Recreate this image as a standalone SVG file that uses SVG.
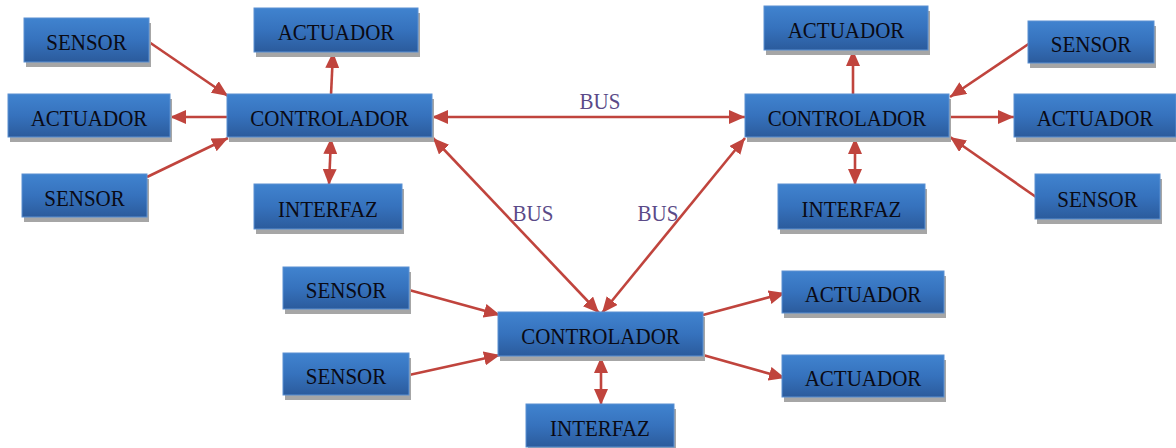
<svg xmlns="http://www.w3.org/2000/svg" width="1176" height="448" viewBox="0 0 1176 448">
  <defs>
    <linearGradient id="boxFill" x1="0" y1="0" x2="0" y2="1">
      <stop offset="0" stop-color="#4083cf"/>
      <stop offset="0.5" stop-color="#3672bd"/>
      <stop offset="1" stop-color="#2b5b9c"/>
    </linearGradient>
    <marker id="head" viewBox="0 0 16 14" refX="16" refY="7" markerWidth="16" markerHeight="14" markerUnits="userSpaceOnUse" orient="auto-start-reverse">
      <path d="M0,0 L16,7 L0,14 z" fill="#c0443d"/>
    </marker>
    <style>
      .shadow { fill: #a6a6a6; }
      .box { fill: url(#boxFill); stroke: #5b90d2; stroke-width: 1; }
      .lbl, .bus { font-family: "Liberation Serif", "Times New Roman", serif; font-size: 21px; text-anchor: middle;
                   transform-box: fill-box; transform-origin: center; transform: scaleY(1.08); }
      .lbl { fill: #0a0a14; }
      .bus { fill: #5a4a88; }
      .wire { stroke: #c0443d; stroke-width: 2.6; fill: none; }
      .one { marker-end: url(#head); }
      .two { marker-start: url(#head); marker-end: url(#head); }
    </style>
  </defs>

  <!-- connectors -->
  <g id="connectors">
    <!-- left controller -->
    <path class="wire one" d="M149,42 L228,96"/>
    <path class="wire one" d="M228,117 L170,117"/>
    <path class="wire one" d="M147,177 L228,138"/>
    <path class="wire one" d="M331,95 L333,52"/>
    <path class="wire two" d="M331,138 L329,185"/>
    <!-- right controller -->
    <path class="wire one" d="M1030,43 L950,97"/>
    <path class="wire one" d="M949,117 L1014,117"/>
    <path class="wire one" d="M1036,197 L950,137"/>
    <path class="wire one" d="M853,95 L853,50"/>
    <path class="wire two" d="M855,138 L855,185"/>
    <!-- bottom controller -->
    <path class="wire one" d="M409,290 L500,315"/>
    <path class="wire one" d="M409,375 L500,355"/>
    <path class="wire two" d="M601,357 L601,405"/>
    <path class="wire one" d="M703,315 L785,293"/>
    <path class="wire one" d="M703,355 L785,378"/>
    <!-- bus links -->
    <path class="wire two" d="M432,117 L745,117"/>
    <path class="wire two" d="M433,138 L599,313"/>
    <path class="wire two" d="M745,138 L602,313"/>
    <text class="bus" x="600" y="108">BUS</text>
    <text class="bus" x="533" y="220">BUS</text>
    <text class="bus" x="658" y="220">BUS</text>
  </g>

  <!-- left controller and its devices -->
  <g id="sensor-l1"><rect class="shadow" x="26" y="23" width="125" height="44"/><rect class="box" x="24" y="18" width="125" height="44"/><text class="lbl" x="86.5" y="49.5">SENSOR</text></g>
  <g id="actuador-l1"><rect class="shadow" x="256" y="13" width="164" height="44"/><rect class="box" x="254" y="8" width="164" height="44"/><text class="lbl" x="336" y="39.5">ACTUADOR</text></g>
  <g id="actuador-l2"><rect class="shadow" x="10" y="99" width="162" height="43"/><rect class="box" x="8" y="94" width="162" height="43"/><text class="lbl" x="89" y="125">ACTUADOR</text></g>
  <g id="controlador-l"><rect class="shadow" x="229" y="99" width="205" height="43"/><rect class="box" x="227" y="94" width="205" height="43"/><text class="lbl" x="329.5" y="125">CONTROLADOR</text></g>
  <g id="sensor-l2"><rect class="shadow" x="24" y="179" width="125" height="43"/><rect class="box" x="22" y="174" width="125" height="43"/><text class="lbl" x="84.5" y="205">SENSOR</text></g>
  <g id="interfaz-l"><rect class="shadow" x="256" y="189" width="148" height="45"/><rect class="box" x="254" y="184" width="148" height="45"/><text class="lbl" x="328" y="216">INTERFAZ</text></g>

  <!-- right controller and its devices -->
  <g id="actuador-r1"><rect class="shadow" x="766" y="11" width="164" height="44"/><rect class="box" x="764" y="6" width="164" height="44"/><text class="lbl" x="846" y="37.5">ACTUADOR</text></g>
  <g id="controlador-r"><rect class="shadow" x="747" y="99" width="204" height="43"/><rect class="box" x="745" y="94" width="204" height="43"/><text class="lbl" x="847" y="125">CONTROLADOR</text></g>
  <g id="sensor-r1"><rect class="shadow" x="1030" y="26" width="126" height="42"/><rect class="box" x="1028" y="21" width="126" height="42"/><text class="lbl" x="1091" y="51.5">SENSOR</text></g>
  <g id="actuador-r2"><rect class="shadow" x="1016" y="99" width="162" height="43"/><rect class="box" x="1014" y="94" width="162" height="43"/><text class="lbl" x="1095" y="125">ACTUADOR</text></g>
  <g id="sensor-r2"><rect class="shadow" x="1037" y="179" width="125" height="45"/><rect class="box" x="1035" y="174" width="125" height="45"/><text class="lbl" x="1097.5" y="206">SENSOR</text></g>
  <g id="interfaz-r"><rect class="shadow" x="780" y="189" width="147" height="45"/><rect class="box" x="778" y="184" width="147" height="45"/><text class="lbl" x="851.5" y="216">INTERFAZ</text></g>

  <!-- bottom controller and its devices -->
  <g id="sensor-b1"><rect class="shadow" x="285" y="272" width="126" height="42"/><rect class="box" x="283" y="267" width="126" height="42"/><text class="lbl" x="346" y="297.5">SENSOR</text></g>
  <g id="sensor-b2"><rect class="shadow" x="285" y="358" width="126" height="42"/><rect class="box" x="283" y="353" width="126" height="42"/><text class="lbl" x="346" y="383.5">SENSOR</text></g>
  <g id="controlador-b"><rect class="shadow" x="500" y="317" width="205" height="44"/><rect class="box" x="498" y="312" width="205" height="44"/><text class="lbl" x="600.5" y="343.5">CONTROLADOR</text></g>
  <g id="actuador-b1"><rect class="shadow" x="784" y="276" width="162" height="42"/><rect class="box" x="782" y="271" width="162" height="42"/><text class="lbl" x="863" y="301.5">ACTUADOR</text></g>
  <g id="actuador-b2"><rect class="shadow" x="784" y="360" width="162" height="42"/><rect class="box" x="782" y="355" width="162" height="42"/><text class="lbl" x="863" y="385.5">ACTUADOR</text></g>
  <g id="interfaz-b"><rect class="shadow" x="528" y="409" width="148" height="43"/><rect class="box" x="526" y="404" width="148" height="43"/><text class="lbl" x="600" y="435">INTERFAZ</text></g>
</svg>
